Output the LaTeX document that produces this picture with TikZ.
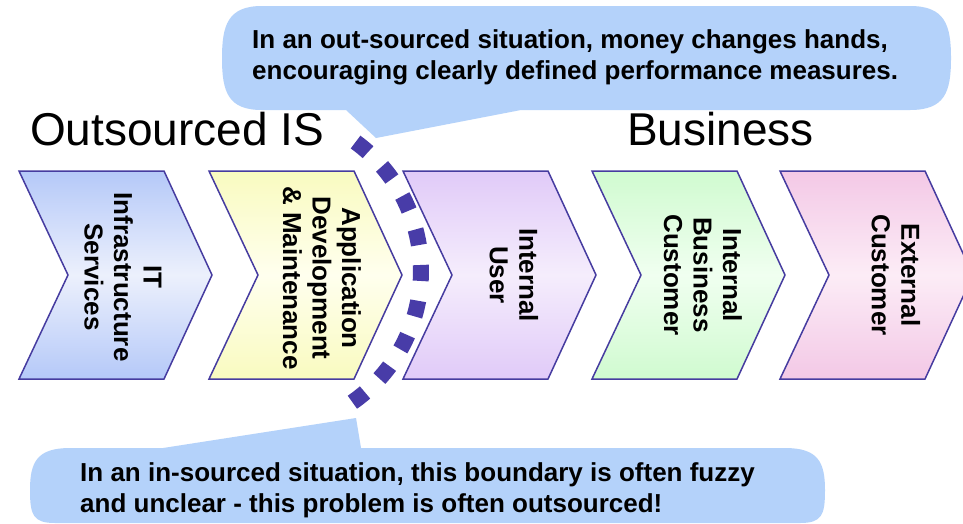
\documentclass[tikz,border=0pt]{standalone}
\usepackage{fontspec}
\setmainfont{Liberation Sans}
\definecolor{blueE}{RGB}{174,196,248}
\definecolor{blueM}{RGB}{236,240,252}
\definecolor{yellowE}{RGB}{248,250,186}
\definecolor{yellowM}{RGB}{255,255,238}
\definecolor{purpleE}{RGB}{222,198,248}
\definecolor{purpleM}{RGB}{245,237,252}
\definecolor{greenE}{RGB}{204,250,204}
\definecolor{greenM}{RGB}{240,255,240}
\definecolor{pinkE}{RGB}{242,196,228}
\definecolor{pinkM}{RGB}{252,236,246}
\definecolor{edgecol}{RGB}{70,60,160}
\definecolor{callcol}{RGB}{180,210,250}
\definecolor{dotcol}{RGB}{72,60,168}
\newcommand{\mkshade}[3]{\pgfdeclareverticalshading{#1}{100bp}{color(0bp)=(#2); color(22bp)=(#2); color(50bp)=(#3); color(78bp)=(#2); color(100bp)=(#2)}}
\mkshade{shblue}{blueE}{blueM}
\mkshade{shyellow}{yellowE}{yellowM}
\mkshade{shpurple}{purpleE}{purpleM}
\mkshade{shgreen}{greenE}{greenM}
\mkshade{shpink}{pinkE}{pinkM}
\tikzset{
  chevline/.style={draw=edgecol, line width=1.5pt, line join=miter},
  chevtext/.style={rotate=-90, align=center, inner sep=0pt,
    font=\fontsize{26}{29.5}\selectfont\bfseries},
  calltext/.style={anchor=base west, inner sep=0pt,
    font=\fontsize{26}{30}\selectfont\bfseries},
  titletext/.style={anchor=base west, inner sep=0pt,
    font=\fontsize{46}{50}\selectfont},
  boundary/.style={draw=dotcol, line width=16pt, dash pattern=on 16pt off 20pt}
}
\newcommand{\chevshape}[2]{%
  \shade[chevline, shading=#2]
    (#1,171) -- ++(145,0) -- ++(48,104) -- ++(-48,104) -- ++(-145,0) -- ++(49,-104) -- cycle;}
\begin{document}
\begin{tikzpicture}[x=1pt,y=-1pt]
\useasboundingbox[fill=white] (0,0) rectangle (963,523);
% chevrons
\chevshape{19}{shblue}
\chevshape{209}{shyellow}
\chevshape{403}{shpurple}
\chevshape{592}{shgreen}
\chevshape{780}{shpink}
\node[chevtext] (it) at (123,277) {IT\\Infrastructure\\Services};
\node[chevtext] (app) at (322,278) {Application\\Development\\\& Maintenance};
\node[chevtext] (iu) at (514,275) {Internal\\User};
\node[chevtext] (ibc) at (703,275) {Internal\\Business\\Customer};
\node[chevtext] (ec) at (896,275) {External\\Customer};
% titles
\node[titletext] (tout) at (30,145) {Outsourced IS};
\node[titletext] (tbus) at (627,145) {Business};
% top callout
\fill[callcol] (262,6) -- (910,6) .. controls (945,6) and (951,25) .. (951,58)
  .. controls (951,92) and (945,110) .. (910,110) -- (521,110) -- (376,138) -- (346,110)
  -- (262,110) .. controls (228,110) and (222,92) .. (222,58)
  .. controls (222,25) and (228,6) .. (262,6) -- cycle;
\node[calltext] (c1a) at (252,48) {In an out-sourced situation, money changes hands,};
\node[calltext] (c1b) at (252,79) {encouraging clearly defined performance measures.};
% bottom callout
\fill[callcol] (70,448) -- (163,448) -- (356,418) -- (361,448) -- (785,448)
  .. controls (818,448) and (825,462) .. (825,490)
  .. controls (825,515) and (822,523) .. (800,523) -- (55,523)
  .. controls (33,523) and (30,515) .. (30,490)
  .. controls (30,462) and (37,448) .. (70,448) -- cycle;
\node[calltext] (c2a) at (80,481) {In an in-sourced situation, this boundary is often fuzzy};
\node[calltext] (c2b) at (80,512) {and unclear - this problem is often outsourced!};
% boundary
\coordinate (bc) at (261.2,271);
\draw[boundary] (bc) ++(-53.8:159.8) arc[start angle=-53.8, end angle=55.2, radius=159.8];
\end{tikzpicture}
\end{document}
